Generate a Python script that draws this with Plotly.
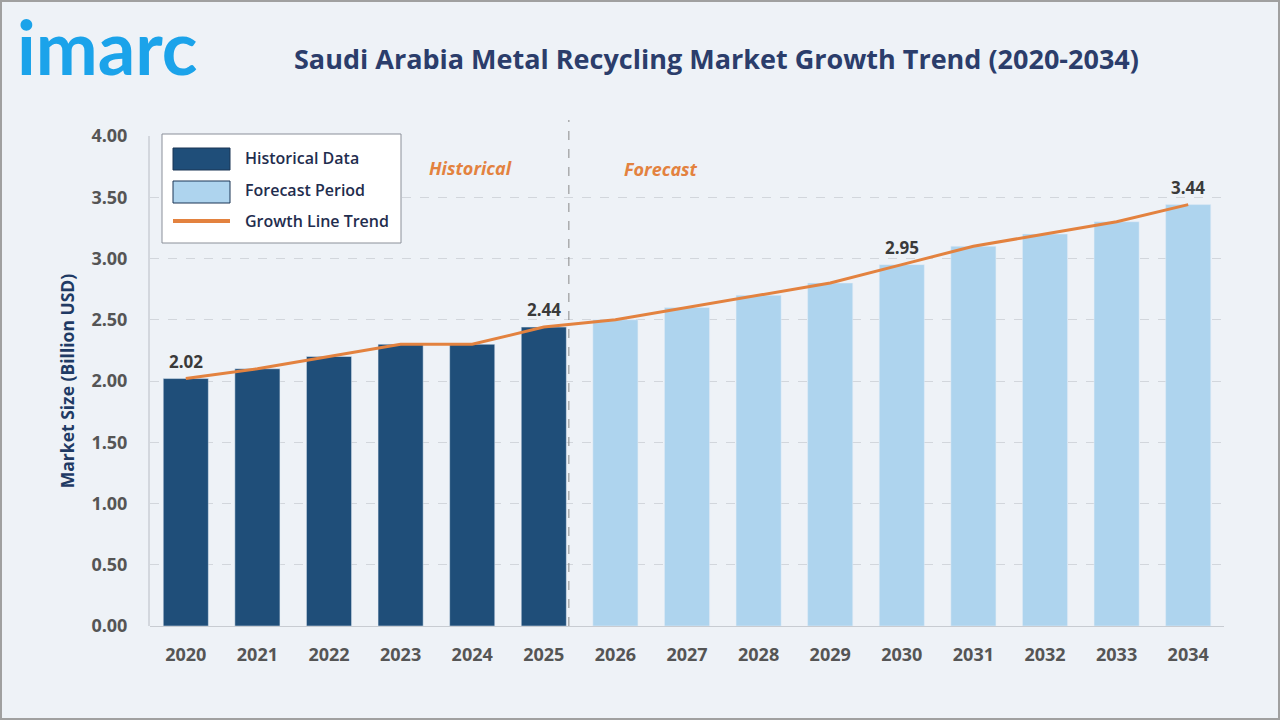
import plotly.graph_objects as go

years = ["2020", "2021", "2022", "2023", "2024", "2025", "2026", "2027", "2028",
         "2029", "2030", "2031", "2032", "2033", "2034"]
hist_years = years[:6]
hist_values = [2.02, 2.10, 2.20, 2.30, 2.30, 2.44]
fc_years = years[6:]
fc_values = [2.50, 2.60, 2.70, 2.80, 2.95, 3.10, 3.20, 3.30, 3.44]
trend_values = hist_values + fc_values
labeled_years = ["2020", "2025", "2030", "2034"]
y_ticks = [0, 0.5, 1.0, 1.5, 2.0, 2.5, 3.0, 3.5, 4.0]

W, H = 1280, 720
L, R, T, B = 150, 1224, 136, 626
DARK = "#1f4e79"
LIGHT = "#aed4ee"
ORANGE = "#e3823f"
BG = "#eef2f7"
FONT = "Open Sans"


def px(x):
    return (x - L) / (R - L)


def py(y):
    return (B - y) / (B - T)


fig = go.Figure()
fig.add_trace(go.Bar(x=hist_years, y=hist_values, marker_color=DARK, name="Historical Data",
                     showlegend=False, hoverinfo="skip"))
fig.add_trace(go.Bar(x=fc_years, y=fc_values, marker_color=LIGHT, name="Forecast Period",
                     showlegend=False, hoverinfo="skip"))
fig.add_trace(go.Scatter(x=years, y=trend_values, mode="lines", line=dict(color=ORANGE, width=3),
                         name="Growth Line Trend", showlegend=False, hoverinfo="skip"))

annotations = []
value_of = dict(zip(years, trend_values))
for yr in labeled_years:
    annotations.append(dict(x=years.index(yr), y=value_of[yr], xref="x", yref="y",
                            text=f"{value_of[yr]:.2f}",
                            showarrow=False, xanchor="center", yanchor="bottom", yshift=4,
                            font=dict(family=FONT, size=17, color="#3a3a3a", weight="bold")))

# title and logo
annotations.append(dict(x=px(716), y=py(59), xref="paper", yref="paper",
                        text="Saudi Arabia Metal Recycling Market Growth Trend (2020-2034)",
                        showarrow=False, xanchor="center", yanchor="middle",
                        font=dict(family=FONT, size=27, color="#2b3d6b", weight="bold")))
annotations.append(dict(x=px(15), y=py(46), xref="paper", yref="paper", text="imarc",
                        showarrow=False, xanchor="left", yanchor="middle",
                        font=dict(family="Lato", size=74, color="#1ba3ea", weight="bold")))

# period labels
annotations.append(dict(x=px(470), y=py(168), xref="paper", yref="paper", text="<i>Historical</i>",
                        showarrow=False, xanchor="center", yanchor="middle",
                        font=dict(family=FONT, size=18, color=ORANGE, weight="bold")))
annotations.append(dict(x=px(661), y=py(169), xref="paper", yref="paper", text="<i>Forecast</i>",
                        showarrow=False, xanchor="center", yanchor="middle",
                        font=dict(family=FONT, size=18, color=ORANGE, weight="bold")))

# custom legend
shapes = []
shapes.append(dict(type="rect", xref="paper", yref="paper", x0=px(162), x1=px(401), y0=py(243), y1=py(134),
                   fillcolor="white", line=dict(color="#8a8f99", width=1), layer="above"))
shapes.append(dict(type="rect", xref="paper", yref="paper", x0=px(173), x1=px(230), y0=py(170), y1=py(148),
                   fillcolor=DARK, line=dict(color="#1b3555", width=1), layer="above"))
shapes.append(dict(type="rect", xref="paper", yref="paper", x0=px(173), x1=px(230), y0=py(203), y1=py(181),
                   fillcolor=LIGHT, line=dict(color="#1b3555", width=1), layer="above"))
shapes.append(dict(type="line", xref="paper", yref="paper", x0=px(173), x1=px(230), y0=py(221), y1=py(221),
                   line=dict(color=ORANGE, width=4), layer="above"))
for txt, yy in [("Historical Data", 158), ("Forecast Period", 190), ("Growth Line Trend", 221)]:
    annotations.append(dict(x=px(243), y=py(yy), xref="paper", yref="paper", text=txt, showarrow=False,
                            xanchor="left", yanchor="middle",
                            font=dict(family=FONT, size=16, color="#1f2d4e", weight=600)))

# divider
shapes.append(dict(type="line", xref="x", yref="paper", x0=5.35, x1=5.35, y0=0, y1=py(120),
                   line=dict(color="#888888", width=1, dash="dash")))
# y axis line
shapes.append(dict(type="line", xref="paper", yref="paper", x0=px(149), x1=px(149), y0=0, y1=1,
                   line=dict(color="#b8bcc4", width=1)))
# outer frame
shapes.append(dict(type="rect", xref="paper", yref="paper", x0=px(1), x1=px(W - 1), y0=py(H - 1), y1=py(1),
                   line=dict(color="#a0a0a0", width=2), fillcolor="rgba(0,0,0,0)", layer="above"))

fig.update_layout(
    width=W, height=H,
    margin=dict(l=L, r=W - R, t=T, b=H - B, autoexpand=False),
    paper_bgcolor=BG, plot_bgcolor=BG,
    bargap=0.37, barmode="overlay",
    showlegend=False,
    annotations=annotations, shapes=shapes,
    xaxis=dict(type="category", categoryorder="array", categoryarray=years, range=[-0.5, 14.5],
               showgrid=False, showline=True, linecolor="#c8ccd2", linewidth=1,
               ticks="outside", ticklen=12, tickcolor="rgba(0,0,0,0)",
               tickfont=dict(family=FONT, size=18, color="#555555", weight="bold")),
    yaxis=dict(range=[0, 4], tickvals=y_ticks, ticktext=[f"{v:.2f}" for v in y_ticks],
               showgrid=True, gridcolor="#d2d6dc", griddash="dash", gridwidth=1,
               zeroline=False, showline=False,
               ticks="outside", ticklen=18, tickcolor="rgba(0,0,0,0)",
               tickfont=dict(family=FONT, size=18, color="#555555", weight="bold"),
               title=dict(text="Market Size (Billion USD)", standoff=12,
                          font=dict(family=FONT, size=17.5, color="#1f3a64", weight="bold"))),
)

fig.write_html("out.html", config={"displayModeBar": False})

with open("out.html", "r", encoding="utf-8") as f:
    html = f.read()
html = html.replace("<head>", "<head><style>html,body{margin:0;padding:0;overflow:hidden;}</style>", 1)
with open("out.html", "w", encoding="utf-8") as f:
    f.write(html)
